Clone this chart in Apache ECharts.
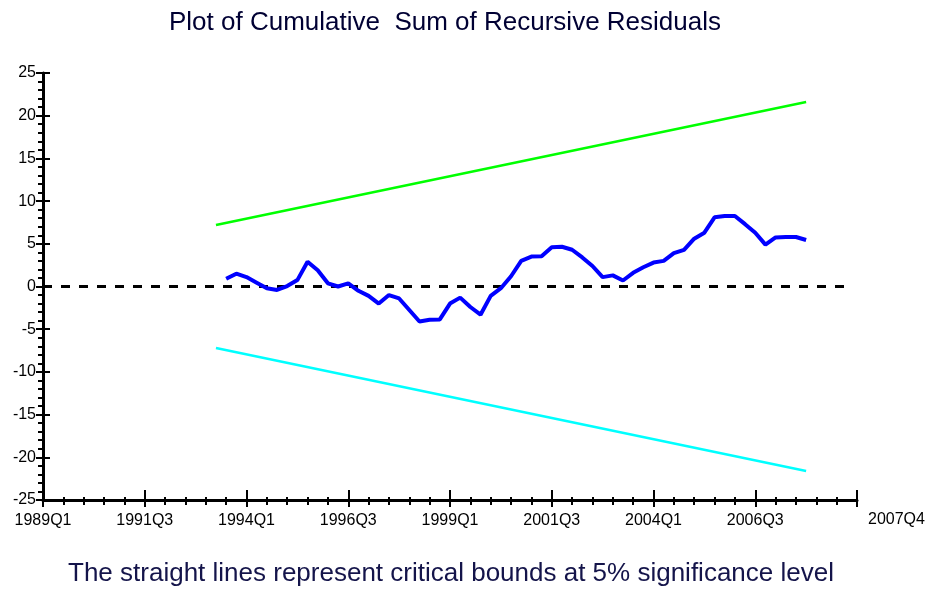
<!DOCTYPE html>
<html>
<head>
<meta charset="utf-8">
<title>Plot of Cumulative Sum of Recursive Residuals</title>
<script src="https://cdn.jsdelivr.net/npm/echarts@6/dist/echarts.min.js"></script>
<style>
  html, body { margin: 0; padding: 0; background: #fff; }
  #chart { width: 929px; height: 589px; }
</style>
</head>
<body>
<div id="chart"></div>
<script>
  'use strict';

  // quarter index: 0 = 1989Q1
  const xTickLabels = ['1989Q1', '1991Q3', '1994Q1', '1996Q3', '1999Q1', '2001Q3', '2004Q1', '2006Q3'];
  const xEndLabel = '2007Q4';
  const cusumStart = 18;
  const cusum = [
    0.9, 1.5, 1.1, 0.45, -0.2, -0.4, 0.05, 0.75, 2.9, 1.9,
    0.37, 0.0, 0.37, -0.5, -1.1, -2.0, -1.0, -1.4, -2.75, -4.1,
    -3.9, -3.85, -2.0, -1.3, -2.4, -3.3, -1.1, -0.2, 1.2, 3.0,
    3.5, 3.55, 4.6, 4.65, 4.3, 3.4, 2.4, 1.1, 1.3, 0.7,
    1.6, 2.25, 2.8, 3.0, 3.9, 4.3, 5.6, 6.3, 8.1, 8.25,
    8.25, 7.3, 6.3, 4.9, 5.75, 5.8, 5.8, 5.45
  ];
  const upperBound = [[17, 7.2], [75, 21.6]];
  const lowerBound = [[17, -7.2], [75, -21.6]];
  const zeroLine = [[0, 0], [79.5, 0]];

  const font = "'Liberation Sans', Arial, sans-serif";
  const chart = echarts.init(document.getElementById('chart'));

  const cusumData = cusum.map((v, i) => [cusumStart + i, v]);

  const xBase = {
    type: 'value',
    min: 0,
    max: 80,
    interval: 10,
    position: 'bottom',
    splitLine: { show: false },
  };
  const yBase = {
    type: 'value',
    min: -25,
    max: 25,
    interval: 5,
    position: 'left',
    splitLine: { show: false },
  };

  chart.setOption({
    animation: false,
    backgroundColor: '#fff',
    textStyle: { fontFamily: font },
    title: [
      {
        text: 'Plot of Cumulative  Sum of Recursive Residuals',
        left: 440,
        top: 5,
        textAlign: 'center',
        textStyle: { fontSize: 26, fontWeight: 'normal', color: '#000033', fontFamily: font },
      },
      {
        text: 'The straight lines represent critical bounds at 5% significance level',
        left: 446,
        top: 556,
        textAlign: 'center',
        textStyle: { fontSize: 26, fontWeight: 'normal', color: '#14144a', fontFamily: font },
      },
    ],
    grid: { left: 43, right: 72, top: 73, bottom: 89 },
    xAxis: [
      Object.assign({}, xBase, {
        name: xEndLabel,
        nameLocation: 'end',
        nameGap: 11,
        nameTextStyle: { fontSize: 16, color: '#000', verticalAlign: 'top', padding: [12, 0, 0, 0] },
        axisLine: { onZero: false, lineStyle: { color: '#000', width: 3 } },
        axisTick: { length: 7, lineStyle: { color: '#000', width: 2 } },
        minorTick: { show: true, splitNumber: 5, length: 5, lineStyle: { color: '#000', width: 2 } },
        axisLabel: {
          margin: 13,
          fontSize: 16,
          color: '#000',
          formatter: (v) => xTickLabels[Math.round(v / 10)] || '',
        },
      }),
      Object.assign({}, xBase, {
        axisLine: { show: false, onZero: false },
        axisTick: { inside: true, length: 10, lineStyle: { color: '#000', width: 2 } },
        minorTick: { show: true, splitNumber: 5, length: 3, lineStyle: { color: '#000', width: 2 } },
        axisLabel: { show: false },
      }),
    ],
    yAxis: [
      Object.assign({}, yBase, {
        axisLine: { onZero: false, lineStyle: { color: '#000', width: 3 } },
        axisTick: { length: 7, lineStyle: { color: '#000', width: 2 } },
        minorTick: { show: true, splitNumber: 5, length: 5, lineStyle: { color: '#000', width: 2 } },
        axisLabel: { margin: 7, fontSize: 16, color: '#000' },
      }),
      Object.assign({}, yBase, {
        axisLine: { show: false, onZero: false },
        axisTick: { inside: true, length: 7, lineStyle: { color: '#000', width: 2 } },
        axisLabel: { show: false },
      }),
    ],
    series: [
      {
        name: 'Zero',
        type: 'line',
        data: zeroLine,
        showSymbol: false,
        silent: true,
        lineStyle: { color: '#000', width: 3, type: [9, 9] },
      },
      {
        name: 'Upper bound',
        type: 'line',
        data: upperBound,
        showSymbol: false,
        lineStyle: { color: '#00ff00', width: 2.5 },
      },
      {
        name: 'Lower bound',
        type: 'line',
        data: lowerBound,
        showSymbol: false,
        lineStyle: { color: '#00ffff', width: 2.5 },
      },
      {
        name: 'CUSUM',
        type: 'line',
        data: cusumData,
        showSymbol: false,
        lineStyle: { color: '#0000ff', width: 4 },
      },
    ],
  });
</script>
</body>
</html>
